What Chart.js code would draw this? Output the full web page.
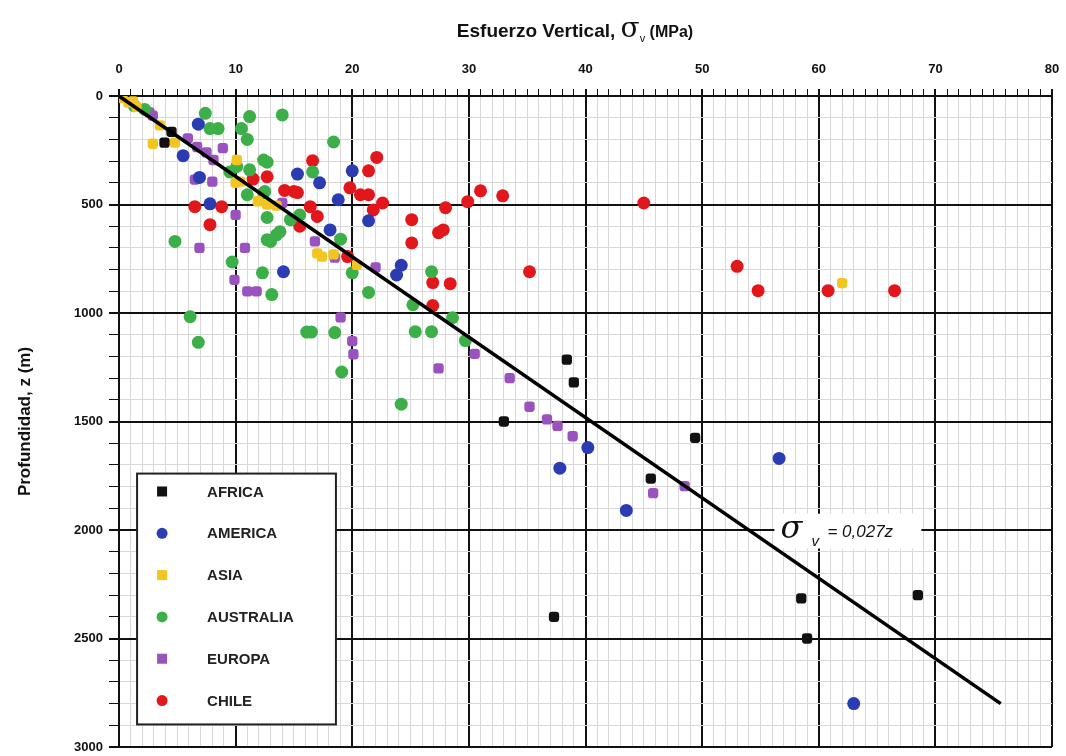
<!DOCTYPE html>
<html>
<head>
<meta charset="utf-8">
<script src="https://cdn.jsdelivr.net/npm/chart.js@4.4.1/dist/chart.umd.min.js"></script>
<style>
  html, body { margin: 0; padding: 0; background: #fff; }
  canvas { display: block; }
</style>
</head>
<body>
<canvas id="chart" width="1066" height="756"></canvas>
<script>
// Data: [stress MPa, depth m]
const africa = [[3.9,215],[4.5,165],[33.0,1500],[38.4,1215],[39.0,1320],[49.4,1575],[45.6,1763],
  [37.3,2400],[58.5,2315],[59.0,2500],[68.5,2300]];
const america = [[6.8,130],[5.5,275],[6.9,375],[7.8,497],[15.3,360],[17.2,400],[20.0,345],[18.8,478],
  [21.4,575],[18.1,617],[14.1,810],[24.2,780],[23.8,825],[37.8,1715],[40.2,1620],[43.5,1910],
  [56.6,1670],[63.0,2800]];
const asia = [[0.3,10],[0.8,30],[1.2,25],[1.5,50],[3.5,135],[2.9,220],[4.8,215],[10.1,295],[10.4,395],
  [10.0,400],[11.9,485],[12.7,500],[13.5,505],[17.0,725],[17.4,740],[18.4,730],[20.4,778],[62.0,862]];
const australia = [[1.3,45],[2.2,62],[7.4,80],[7.8,150],[8.5,150],[11.2,95],[10.5,150],[11.0,200],
  [14.0,87],[18.4,212],[12.4,295],[12.7,305],[9.5,350],[10.1,325],[11.2,340],[16.6,350],[11.0,455],
  [12.4,447],[12.5,440],[12.7,560],[14.7,570],[15.5,548],[13.8,625],[13.5,640],[13.0,670],[19.0,660],
  [12.7,663],[4.8,670],[9.7,765],[12.3,815],[13.1,915],[20.0,815],[21.4,905],[26.8,810],[25.2,962],
  [28.6,1022],[25.4,1086],[26.8,1086],[29.7,1127],[16.1,1088],[16.5,1088],[18.5,1090],[19.1,1272],
  [6.1,1017],[6.8,1135],[24.2,1420]];
const europa = [[2.6,75],[2.9,90],[5.9,195],[6.7,235],[7.5,260],[8.9,240],[8.1,295],[6.5,385],[8.0,395],
  [10.0,548],[14.0,493],[6.9,700],[10.8,700],[9.9,847],[11.0,900],[11.8,900],[16.8,670],[18.5,745],
  [22.0,790],[19.0,1020],[20.0,1130],[20.1,1190],[27.4,1255],[30.5,1188],[33.5,1300],[35.2,1432],
  [36.7,1490],[37.6,1520],[38.9,1568],[45.8,1830],[48.5,1798]];
const chile = [[7.8,593],[6.5,510],[8.8,510],[11.5,383],[12.7,372],[16.6,298],[14.2,435],[15.0,440],
  [15.3,445],[16.4,510],[17.0,555],[15.5,600],[22.1,283],[21.4,345],[19.8,423],[20.7,455],[21.4,455],
  [22.6,493],[21.8,525],[19.6,740],[25.1,570],[28.0,515],[29.9,487],[31.0,437],[32.9,460],[45.0,493],
  [27.8,617],[27.4,630],[25.1,677],[35.2,810],[26.9,860],[28.4,865],[26.9,966],[53.0,785],[54.8,897],
  [60.8,897],[66.5,897]];

// trend line sigma_v = 0.027 z
const trendZ = [0, 2800];
const trendSlope = 0.027;

const seriesNames = ['AFRICA', 'AMERICA', 'ASIA', 'AUSTRALIA', 'EUROPA', 'CHILE'];
const seriesData = [africa, america, asia, australia, europa, chile];
const seriesColors = ['#111111', '#2b3cb3', '#f3c520', '#3daf48', '#9a52bf', '#e2171c'];
const seriesShapes = ['rectRounded', 'circle', 'rect', 'circle', 'rect', 'circle'];

const FONT = '"Liberation Sans", Arial, sans-serif';

const datasets = seriesData.map((pts, i) => ({
    type: 'scatter',
    label: seriesNames[i],
    data: pts.map(p => ({ x: p[0], y: p[1] })),
    backgroundColor: seriesColors[i],
    borderColor: seriesColors[i],
    borderWidth: 0,
    pointStyle: seriesShapes[i] === 'circle' ? 'circle' : 'rectRounded',
    pointRadius: seriesShapes[i] === 'circle' ? 6.5 : 6,
    order: 2
}));

datasets.push({
    type: 'line',
    label: 'trend',
    data: trendZ.map(z => ({ x: z * trendSlope, y: z })),
    borderColor: '#000',
    borderWidth: 3.5,
    pointRadius: 0,
    order: 1
});

// title with sigma symbol
const titlePlugin = {
    id: 'titlePlugin',
    afterDraw(chart) {
        const ctx = chart.ctx;
        const parts = [
            { t: 'Esfuerzo Vertical, ', f: 'bold 19px ' + FONT, dy: 0 },
            { t: 'σ', f: '28px "DejaVu Serif", serif', dy: 0 },
            { t: 'v', f: '11px ' + FONT, dy: 5 },
            { t: ' (MPa)', f: 'bold 16px ' + FONT, dy: 0 }
        ];
        let total = 0;
        parts.forEach(p => { ctx.font = p.f; p.w = ctx.measureText(p.t).width; total += p.w; });
        let x = 575 - total / 2;
        ctx.save();
        ctx.fillStyle = '#111';
        ctx.textBaseline = 'alphabetic';
        parts.forEach(p => { ctx.font = p.f; ctx.fillText(p.t, x, 37 + p.dy); x += p.w; });
        ctx.restore();
    }
};

// equation label, under the line
const eqPlugin = {
    id: 'eqPlugin',
    beforeDatasetsDraw(chart) {
        const ctx = chart.ctx;
        const xs = chart.scales.x, ys = chart.scales.y;
        const x0 = xs.getPixelForValue(56.2), x1 = xs.getPixelForValue(68.8);
        const y0 = ys.getPixelForValue(1925), y1 = ys.getPixelForValue(2085);
        ctx.save();
        ctx.fillStyle = '#fff';
        ctx.fillRect(x0, y0, x1 - x0, y1 - y0);
        ctx.fillStyle = '#111';
        ctx.font = 'italic 32px "DejaVu Serif", serif';
        ctx.fillText('σ', x0 + 6, y0 + 24);
        ctx.font = 'italic 15px ' + FONT;
        ctx.fillText('v', x0 + 37, y0 + 32);
        ctx.font = 'italic 17px ' + FONT;
        ctx.fillText('= 0,027z', x0 + 53, y0 + 23);
        ctx.restore();
    }
};

// legend box inside the plot
const legendPlugin = {
    id: 'legendPlugin',
    afterDatasetsDraw(chart) {
        const ctx = chart.ctx;
        const xs = chart.scales.x, ys = chart.scales.y;
        const bx0 = xs.getPixelForValue(1.55), bx1 = xs.getPixelForValue(18.6);
        const by0 = ys.getPixelForValue(1740), by1 = ys.getPixelForValue(2896);
        ctx.save();
        ctx.fillStyle = '#fff';
        ctx.fillRect(bx0, by0, bx1 - bx0, by1 - by0);
        ctx.strokeStyle = '#222';
        ctx.lineWidth = 2;
        ctx.strokeRect(bx0, by0, bx1 - bx0, by1 - by0);
        const step = (by1 - by0) / 6;
        seriesNames.forEach((name, i) => {
            const cy = by0 + step * (i + 0.5) - 3;
            ctx.fillStyle = seriesColors[i];
            if (seriesShapes[i] === 'circle') {
                ctx.beginPath();
                ctx.arc(bx0 + 25, cy, 5.5, 0, Math.PI * 2);
                ctx.fill();
            } else {
                ctx.fillRect(bx0 + 20, cy - 5, 10, 10);
            }
            ctx.fillStyle = '#222';
            ctx.font = 'bold 15px ' + FONT;
            ctx.textBaseline = 'middle';
            ctx.fillText(name, bx0 + 70, cy + 1);
        });
        ctx.restore();
    }
};

const majorX = v => Math.abs(v % 10) < 1e-6;
const majorY = v => Math.abs(v % 500) < 1e-6;

new Chart(document.getElementById('chart').getContext('2d'), {
    data: { datasets: datasets },
    options: {
        responsive: false,
        animation: false,
        devicePixelRatio: 1,
        layout: { padding: { left: 0, right: 14, top: 0, bottom: 9 } },
        plugins: {
            legend: { display: false },
            tooltip: { enabled: false }
        },
        scales: {
            x: {
                type: 'linear',
                position: 'top',
                min: 0, max: 80,
                afterFit: s => { s.height = 96; s.paddingLeft = 0; s.paddingRight = 0; },
                border: { color: '#111', width: 2 },
                grid: {
                    color: c => majorX(c.tick.value) ? '#111' : '#d9d9d9',
                    lineWidth: c => majorX(c.tick.value) ? 2 : 1,
                    tickColor: '#111',
                    tickWidth: c => majorX(c.tick.value) ? 2 : 1,
                    tickLength: 7
                },
                ticks: {
                    stepSize: 1,
                    autoSkip: false,
                    maxRotation: 0,
                    padding: 12,
                    color: '#111',
                    font: { family: FONT, size: 13, weight: 'bold' },
                    callback: v => majorX(v) ? v : ''
                }
            },
            y: {
                type: 'linear',
                min: 0, max: 3000,
                reverse: true,
                afterFit: s => { s.width = 119; s.paddingTop = 0; s.paddingBottom = 0; },
                border: { color: '#111', width: 2 },
                grid: {
                    color: c => majorY(c.tick.value) ? '#111' : '#d9d9d9',
                    lineWidth: c => majorY(c.tick.value) ? 2 : 1,
                    tickColor: '#111',
                    tickWidth: c => majorY(c.tick.value) ? 2 : 1,
                    tickLength: 10
                },
                title: {
                    display: true,
                    text: 'Profundidad, z (m)',
                    color: '#111',
                    font: { family: FONT, size: 17, weight: 'bold' },
                    padding: { top: 15, bottom: 0 }
                },
                ticks: {
                    stepSize: 100,
                    autoSkip: false,
                    padding: 6,
                    color: '#111',
                    font: { family: FONT, size: 13, weight: 'bold' },
                    callback: v => majorY(v) ? v : ''
                }
            }
        }
    },
    plugins: [titlePlugin, eqPlugin, legendPlugin]
});
</script>
</body>
</html>
